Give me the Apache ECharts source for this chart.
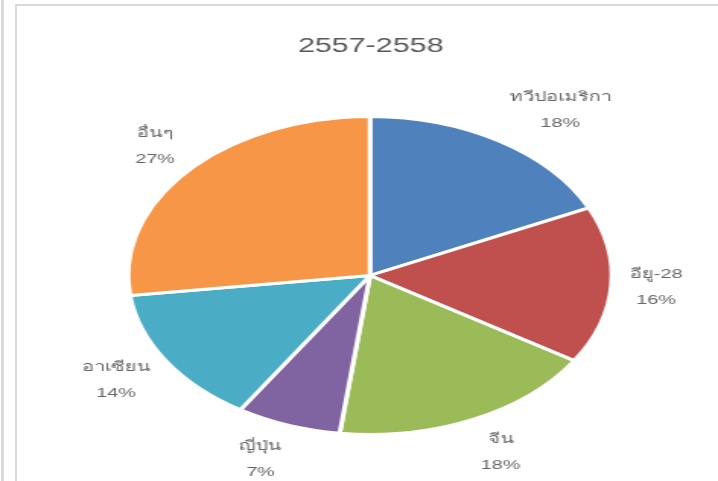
<!DOCTYPE html>
<html>
<head>
<meta charset="utf-8">
<script src="https://cdn.jsdelivr.net/npm/echarts@6/dist/echarts.min.js"></script>
<style>
  html, body { margin: 0; padding: 0; background: #ffffff; overflow: hidden; }
  #strip { position: absolute; left: 1px; top: 0; width: 3px; height: 481px; background: #dcdcdc; }
  #frame { position: absolute; left: 15px; top: 4px; width: 703px; height: 477px;
           border-left: 2px solid #d9d9d9; border-top: 2px solid #d9d9d9; box-sizing: border-box; }
  #chart { position: absolute; left: 0; top: 0; width: 472px; height: 481px;
           transform: scaleX(1.5212); transform-origin: 0 0; }
</style>
</head>
<body>
<div id="strip"></div>
<div id="frame"></div>
<div id="chart"></div>
<script>
// ---- data ----
const titleText = '2557-2558';
const categories = ['ทวีปอเมริกา', 'อียู-28', 'จีน', 'ญี่ปุ่น', 'อาเซียน', 'อื่นๆ'];
const shares = [18, 16, 18, 7, 14, 27];
const colors = ['#4F81BD', '#C0504D', '#9BBB59', '#8064A2', '#4BACC6', '#F79646'];

// ---- layout (unstretched canvas coordinates) ----
const CX = 243.2, CY = 275.5, R = 159;
const GAP_R = 171;      // radius where the nearest edge of a label box sits
const HALF_H = 24;      // vertical push of a two-line label block
const FONT_FAMILY = 'Liberation Sans, Arial, sans-serif';
const FONT_SIZE = 13;

const total = shares.reduce((a, b) => a + b, 0);
const midAngles = [];
let acc = 0;
shares.forEach(v => { midAngles.push((acc + v / 2) / total * 2 * Math.PI); acc += v; });

const measureCtx = document.createElement('canvas').getContext('2d');
measureCtx.font = FONT_SIZE + 'px ' + FONT_FAMILY;
function labelText(i) {
  return categories[i] + '\n' + Math.round(shares[i] / total * 100) + '%';
}
function blockWidth(i) {
  return Math.max(...labelText(i).split('\n').map(s => measureCtx.measureText(s).width));
}

const chart = echarts.init(document.getElementById('chart'), null, { renderer: 'canvas' });
chart.setOption({
  animation: false,
  color: colors,
  title: {
    text: titleText,
    left: CX - 4.5,
    textAlign: 'center',
    top: 31,
    textStyle: { fontFamily: FONT_FAMILY, fontSize: 20, fontWeight: 'normal', color: '#595959' }
  },
  series: [{
    type: 'pie',
    center: [CX, CY],
    radius: R,
    startAngle: 90,
    clockwise: true,
    silent: true,
    itemStyle: { borderColor: '#ffffff', borderWidth: 3 },
    label: {
      show: true,
      position: 'outside',
      fontFamily: FONT_FAMILY,
      fontSize: FONT_SIZE,
      lineHeight: 26,
      color: '#666666',
      width: 200,
      overflow: 'none',
      formatter: p => labelText(p.dataIndex)
    },
    labelLine: { show: false },
    labelLayout: function (params) {
      const i = params.dataIndex;
      const a = midAngles[i];
      const s = Math.sin(a), c = Math.cos(a);
      const w = blockWidth(i);
      return {
        x: CX + GAP_R * s + (s >= 0 ? 1 : -1) * w / 2,
        y: CY - GAP_R * c - c * HALF_H,
        align: 'center',
        verticalAlign: 'middle'
      };
    },
    data: categories.map((c, i) => ({ name: c, value: shares[i] }))
  }]
});
</script>
</body>
</html>
